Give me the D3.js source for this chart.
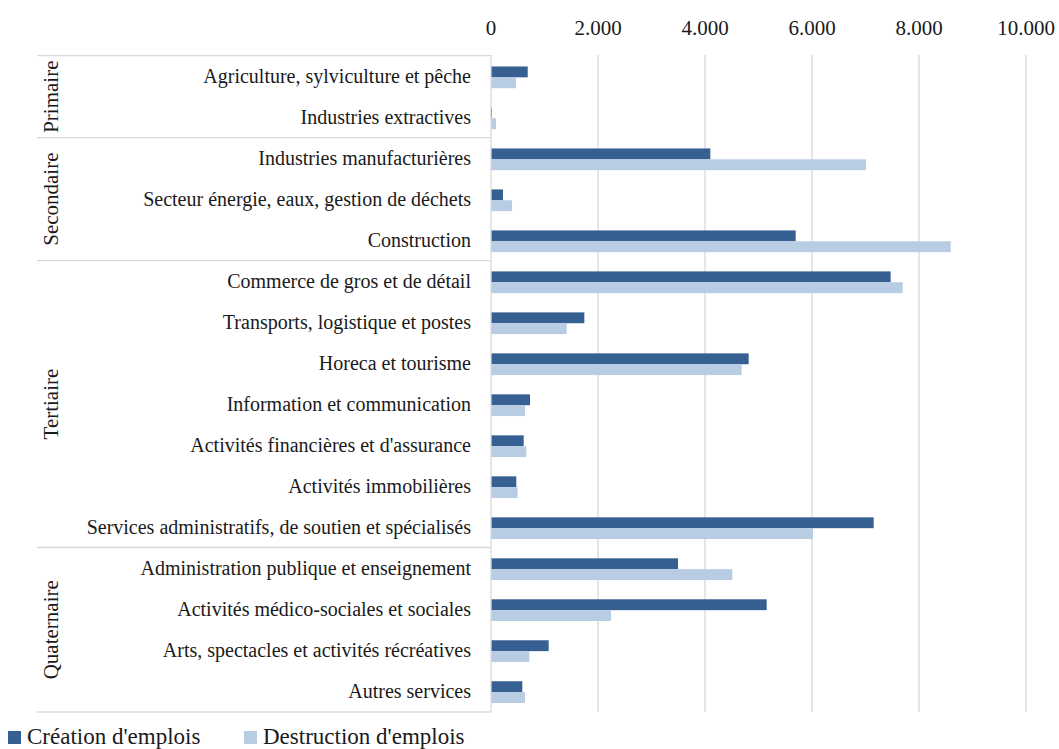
<!DOCTYPE html>
<html lang="fr">
<head>
<meta charset="utf-8">
<title>Création et destruction d'emplois</title>
<script src="https://d3js.org/d3.v7.min.js"></script>
<style>
  body { margin: 0; background: #fff; }
</style>
</head>
<body>
<script>
// data
var categories = [
  "Agriculture, sylviculture et pêche",
  "Industries extractives",
  "Industries manufacturières",
  "Secteur énergie, eaux, gestion de déchets",
  "Construction",
  "Commerce de gros et de détail",
  "Transports, logistique et postes",
  "Horeca et tourisme",
  "Information et communication",
  "Activités financières et d'assurance",
  "Activités immobilières",
  "Services administratifs, de soutien et spécialisés",
  "Administration publique et enseignement",
  "Activités médico-sociales et sociales",
  "Arts, spectacles et activités récréatives ",
  "Autres services"
];
var creation    = [686, 19, 4100, 224, 5695, 7470, 1745, 4816, 729, 611, 473, 7153, 3495, 5153, 1078, 585];
var destruction = [467, 93, 7010, 393, 8593, 7695, 1415, 4685, 636, 660, 498, 6019, 4511, 2243, 716, 636];
var seriesNames = ["Création d'emplois", "Destruction d'emplois"];
var groups = [
  {name: "Primaire", first: 0, last: 1},
  {name: "Secondaire", first: 2, last: 4},
  {name: "Tertiaire", first: 5, last: 11},
  {name: "Quaternaire", first: 12, last: 15}
];
var tickValues = [0, 2000, 4000, 6000, 8000, 10000];

var w = 1059, h = 749;
var margin = {top: 55, left: 491, right: 33, bottom: 37};
var colors = ["#366092", "#b8cce4"];
var grid = "#d9d9d9";
var serif = "'Liberation Serif', 'Times New Roman', 'DejaVu Serif', serif";

var svg = d3.select("body").append("svg")
    .attr("width", w)
    .attr("height", h)
    .attr("font-family", serif)
    .attr("fill", "#1a1a1a");

var x = d3.scaleLinear()
    .domain([0, 10000])
    .range([margin.left, w - margin.right]);

var y = d3.scaleBand()
    .domain(categories)
    .range([margin.top, h - margin.bottom])
    .paddingInner(0.47)
    .paddingOuter(0.25)
    .align(0.56);

var ySub = d3.scaleBand()
    .domain([0, 1])
    .range([0, y.bandwidth()]);

// gridlines
svg.append("g")
  .selectAll("line")
  .data(tickValues.slice(1))
  .join("line")
    .attr("x1", d => x(d)).attr("x2", d => x(d))
    .attr("y1", margin.top).attr("y2", h - margin.bottom)
    .attr("stroke", grid)
    .attr("stroke-width", 1.3);

// top tick labels
var fmt = d => d3.format(",")(d).replace(/,/g, ".");
svg.append("g")
  .selectAll("text")
  .data(tickValues)
  .join("text")
    .attr("x", d => x(d))
    .attr("y", 35)
    .attr("text-anchor", "middle")
    .attr("font-family", serif)
    .attr("font-size", 21)
    .text(fmt);

// bars
var rows = svg.append("g")
  .selectAll("g")
  .data(categories)
  .join("g")
    .attr("transform", d => "translate(0," + y(d) + ")");

rows.selectAll("rect")
  .data((d, i) => [creation[i], destruction[i]])
  .join("rect")
    .attr("x", x(0))
    .attr("y", (d, j) => ySub(j))
    .attr("width", d => x(d) - x(0))
    .attr("height", ySub.bandwidth())
    .attr("fill", (d, j) => colors[j]);

// category labels
svg.append("g")
  .selectAll("text")
  .data(categories)
  .join("text")
    .attr("x", 471)
    .attr("y", d => y(d) + y.bandwidth() / 2 + 5.5)
    .attr("text-anchor", "end")
    .attr("font-family", serif)
    .attr("font-size", 20)
    .text(d => d);

// category axis line
svg.append("line")
    .attr("x1", x(0)).attr("x2", x(0))
    .attr("y1", margin.top).attr("y2", h - margin.bottom)
    .attr("stroke", grid)
    .attr("stroke-width", 1.3);

// group separators and labels
var step = y.step();
var rowTop = i => y(categories[i]) - (step - y.bandwidth()) * 0.56;
var bounds = groups.map(g => rowTop(g.first)).concat([h - margin.bottom]);

svg.append("g")
  .selectAll("line")
  .data(bounds)
  .join("line")
    .attr("x1", 37).attr("x2", x(0))
    .attr("y1", d => d).attr("y2", d => d)
    .attr("stroke", grid)
    .attr("stroke-width", 1.3);

svg.append("g")
  .selectAll("text")
  .data(groups)
  .join("text")
    .attr("transform", (g, i) => "translate(58," + ((bounds[i] + bounds[i + 1]) / 2) + ") rotate(-90)")
    .attr("text-anchor", "middle")
    .attr("font-family", serif)
    .attr("font-size", 21)
    .text(g => g.name);

// legend
var legend = svg.append("g")
  .selectAll("g")
  .data(seriesNames)
  .join("g")
    .attr("transform", (d, i) => "translate(" + (8 + i * 236) + ",731)");

legend.append("rect")
    .attr("width", 13).attr("height", 13)
    .attr("fill", (d, i) => colors[i]);

legend.append("text")
    .attr("x", 19)
    .attr("y", 13)
    .attr("font-family", serif)
    .attr("font-size", 23)
    .text(d => d);
</script>
</body>
</html>
